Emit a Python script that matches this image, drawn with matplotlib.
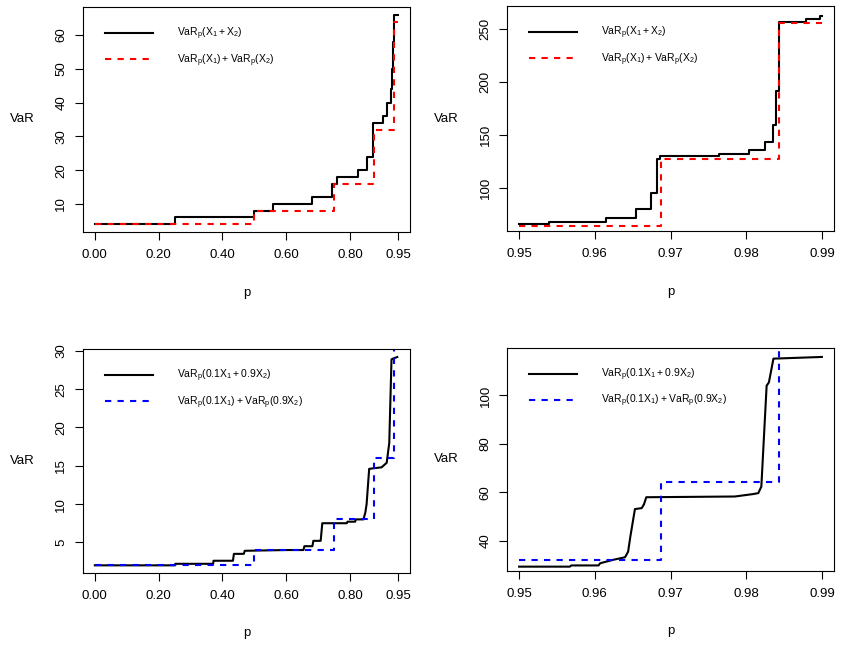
import matplotlib
matplotlib.use('Agg')
import matplotlib.pyplot as plt

plt.rcParams['font.family'] = ['Liberation Sans', 'DejaVu Sans']
plt.rcParams['mathtext.default'] = 'regular'

# top left: p in [0, 0.95], step breakpoints
p_tl_sum = [0, 0.25, 0.5, 0.56, 0.68, 0.743, 0.758, 0.824, 0.852, 0.873, 0.904, 0.915, 0.927, 0.931, 0.934, 0.937, 0.95]
var_tl_sum = [4, 6, 8, 10, 12, 16, 18, 20, 24, 34, 36, 40, 44, 50, 58, 66, 66]
p_tl_add = [0, 0.5, 0.75, 0.875, 0.9375, 0.95]
var_tl_add = [4, 8, 16, 32, 64, 64]

# top right: p in [0.95, 0.99]
p_tr_sum = [0.95, 0.954, 0.9615, 0.9655, 0.9674, 0.9682, 0.9686, 0.9764, 0.9804, 0.9825,
            0.9836, 0.984, 0.9843, 0.9879, 0.9898, 0.99]
var_tr_sum = [66, 68, 72, 80, 96, 128, 130, 132, 136, 144, 160, 192, 257, 260, 263, 263]
p_tr_add = [0.95, 0.96875, 0.984375, 0.99]
var_tr_add = [64, 128, 256, 256]

# bottom left: weighted sum 0.1 X1 + 0.9 X2
p_bl_sum = [0, 0.251, 0.252, 0.371, 0.372, 0.433, 0.436, 0.467, 0.47, 0.60, 0.654, 0.657, 0.682, 0.685,
            0.708, 0.713, 0.79, 0.792, 0.816, 0.818, 0.842, 0.848, 0.852, 0.86, 0.899, 0.915, 0.923,
            0.926, 0.93, 0.935, 0.948]
var_bl_sum = [2.0, 2.0, 2.2, 2.2, 2.6, 2.6, 3.5, 3.5, 3.9, 4.0, 4.0, 4.5, 4.5, 5.2, 5.2, 7.5, 7.5, 7.7,
              7.7, 8.0, 8.0, 8.9, 10.0, 14.6, 14.8, 15.4, 18.0, 22.7, 28.9, 29.0, 29.2]
p_bl_add = [0, 0.5, 0.75, 0.875, 0.9375, 0.95]
var_bl_add = [2, 4, 8, 16, 32, 32]

# bottom right
p_br_sum = [0.95, 0.9567, 0.9569, 0.9605, 0.9607, 0.9624, 0.964, 0.9644, 0.9647, 0.9653, 0.9662,
            0.9665, 0.9668, 0.9785, 0.9809, 0.9816, 0.9820, 0.9827, 0.9830, 0.9836, 0.99]
var_br_sum = [29.2, 29.2, 29.7, 29.7, 30.6, 32.0, 33.1, 35.4, 41.7, 53.0, 53.4, 55.0, 57.9, 58.2,
              59.2, 59.6, 62.3, 104.0, 105.4, 115.2, 115.9]
p_br_add = [0.95, 0.96875, 0.984375, 0.99]
var_br_add = [32, 64, 128, 128]

lab_sum = r'$VaR_p(X_1 + X_2)$'
lab_add = r'$VaR_p(X_1) + VaR_p(X_2)$'
lab_wsum = r'$VaR_p(0.1X_1 + 0.9X_2)$'
lab_wadd = r'$VaR_p(0.1X_1) + VaR_p(0.9X_2)$'

left_ticks = [0, 0.2, 0.4, 0.6, 0.8, 0.95]
left_ticklabels = ['0.00', '0.20', '0.40', '0.60', '0.80', '0.95']
right_ticks = [0.95, 0.96, 0.97, 0.98, 0.99]
right_ticklabels = ['0.95', '0.96', '0.97', '0.98', '0.99']

fig = plt.figure(figsize=(8.42, 6.46), dpi=100)
W, H = 842, 646


def make_ax(x0, x1, y0, y1):
    return fig.add_axes([x0 / W, 1 - y1 / H, (x1 - x0) / W, (y1 - y0) / H])


def style(ax, xticks, xlabels, yticks, xlim, ylim):
    ax.set_xlim(xlim)
    ax.set_ylim(ylim)
    ax.set_xticks(xticks)
    ax.set_xticklabels(xlabels)
    ax.set_yticks(yticks)
    ax.set_yticklabels([str(t) for t in yticks], rotation=90, va='center')
    ax.tick_params(direction='out', length=6, width=0.8, labelsize=9.5)
    ax.tick_params(axis='x', pad=6.5)
    ax.tick_params(axis='y', pad=5)
    for s in ax.spines.values():
        s.set_linewidth(0.8)
    ax.text(-0.186, 0.5, 'VaR', transform=ax.transAxes, ha='center', va='center', fontsize=9.5)
    ax.text(0.5, -0.27, 'p', transform=ax.transAxes, ha='center', va='center', fontsize=9.5)
    ax.legend(loc='upper left', bbox_to_anchor=(0.068, 0.916), frameon=False, fontsize=7.5,
              handlelength=4.6, handletextpad=2.3, labelspacing=0.95, borderpad=0, borderaxespad=0)


dash = (0, (3, 3))

ax = make_ax(82.7, 410, 7, 232)
ax.plot(p_tl_sum, var_tl_sum, color='black', lw=1.5, drawstyle='steps-post', label=lab_sum)
ax.plot(p_tl_add, var_tl_add, color='red', lw=1.5, ls=dash, drawstyle='steps-post', label=lab_add)
style(ax, left_ticks, left_ticklabels, [10, 20, 30, 40, 50, 60], (-0.038, 0.988), (1.7, 68.3))

ax = make_ax(507, 834, 6, 231)
ax.plot(p_tr_sum, var_tr_sum, color='black', lw=1.5, drawstyle='steps-post', label=lab_sum)
ax.plot(p_tr_add, var_tr_add, color='red', lw=1.5, ls=dash, drawstyle='steps-post', label=lab_add)
style(ax, right_ticks, right_ticklabels, [100, 150, 200, 250], (0.9484, 0.9916), (59.7, 272))

ax = make_ax(82.7, 410, 349, 573)
ax.plot(p_bl_sum, var_bl_sum, color='black', lw=1.5, label=lab_wsum)
ax.plot(p_bl_add, var_bl_add, color='blue', lw=1.5, ls=dash, drawstyle='steps-post', label=lab_wadd)
style(ax, left_ticks, left_ticklabels, [5, 10, 15, 20, 25, 30], (-0.038, 0.988), (1.0, 30.25))

ax = make_ax(507, 834, 348, 571)
ax.plot(p_br_sum, var_br_sum, color='black', lw=1.5, label=lab_wsum)
ax.plot(p_br_add, var_br_add, color='blue', lw=1.5, ls=dash, drawstyle='steps-post', label=lab_wadd)
style(ax, right_ticks, right_ticklabels, [40, 60, 80, 100], (0.9484, 0.9916), (27.4, 119.6))

fig.savefig('out.png', dpi=100)
